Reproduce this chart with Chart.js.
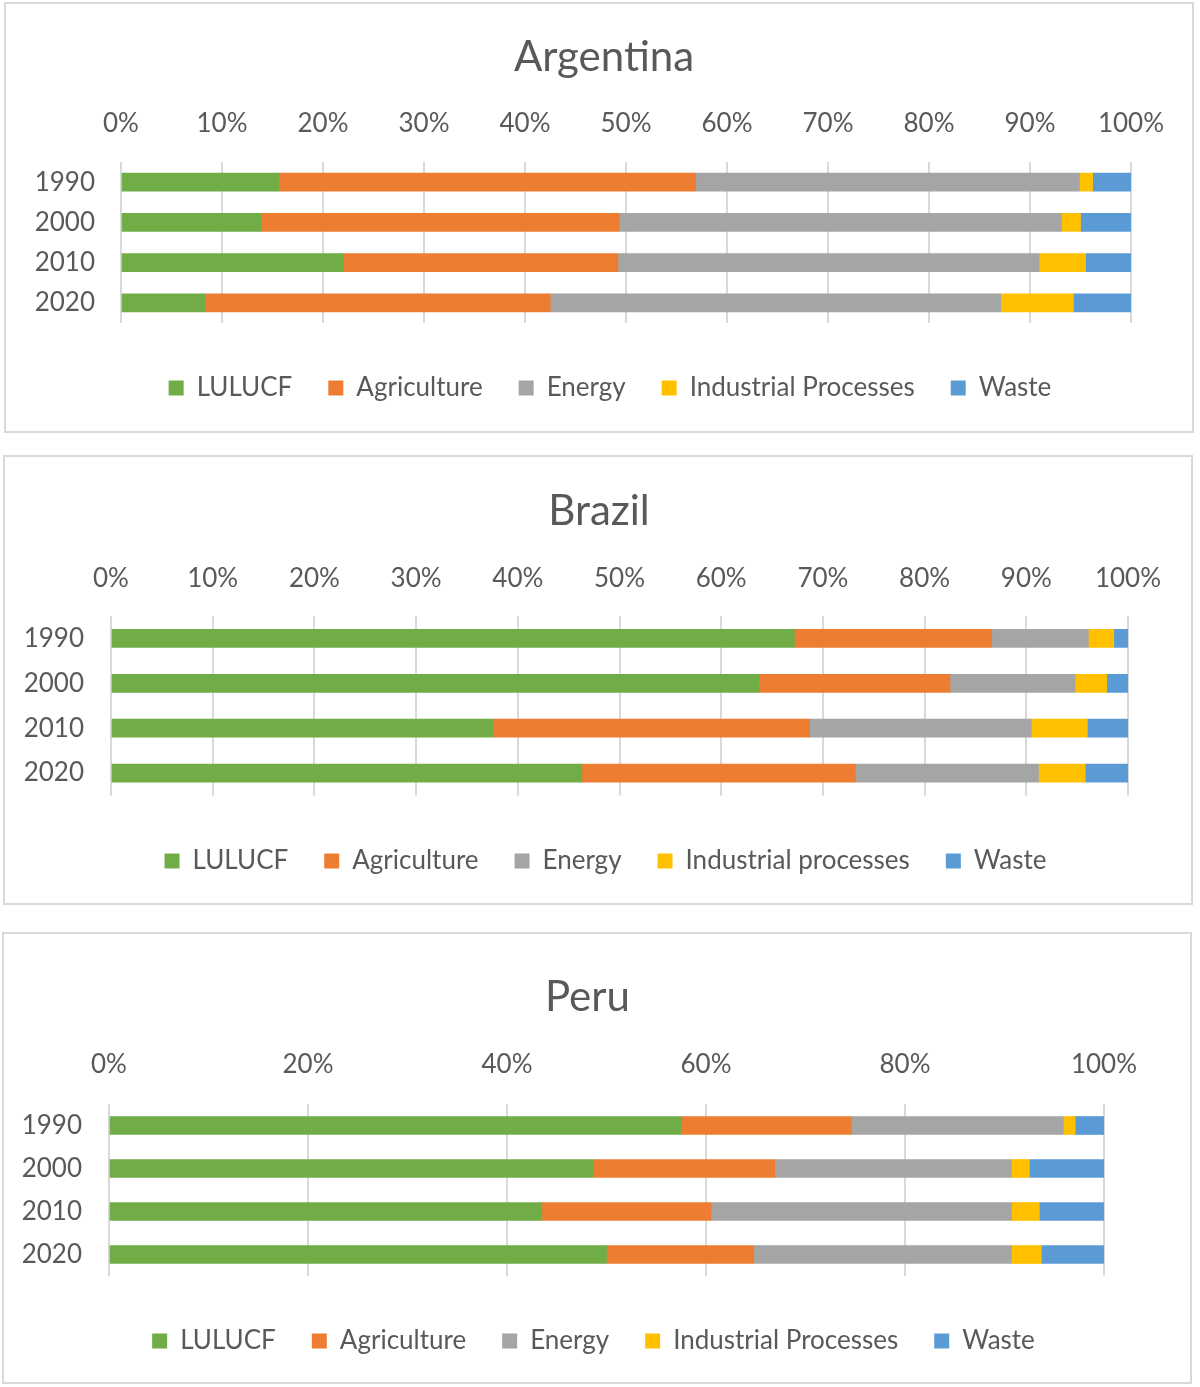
<!DOCTYPE html>
<html>
<head>
<meta charset="utf-8">
<script src="https://cdn.jsdelivr.net/npm/chart.js@4.4.0/dist/chart.umd.min.js"></script>
<style>
  html, body { margin: 0; padding: 0; background: #fff; }
  body { width: 1200px; height: 1387px; position: relative; overflow: hidden; }
  .panel { position: absolute; box-sizing: border-box; border: 2px solid #d9d9d9; background: #fff; }
  .panel canvas { display: block; }
</style>
</head>
<body>
<div class="panel" id="pArg" style="left:4px; top:2px; width:1190px; height:431px;"><canvas id="cArg"></canvas></div>
<div class="panel" id="pBra" style="left:3px; top:455px; width:1190px; height:450px;"><canvas id="cBra"></canvas></div>
<div class="panel" id="pPer" style="left:2px; top:932px; width:1190px; height:452px;"><canvas id="cPer"></canvas></div>
<script>
/* ------------------------------
   DATA (shares in %)
--------------------------------*/

const years = ["1990", "2000", "2010", "2020"];

const ticks10 = [0, 10, 20, 30, 40, 50, 60, 70, 80, 90, 100];
const ticks20 = [0, 20, 40, 60, 80, 100];

const sectorsA = ["LULUCF", "Agriculture", "Energy", "Industrial Processes", "Waste"];
const sectorsB = ["LULUCF", "Agriculture", "Energy", "Industrial processes", "Waste"];

// Argentina
const argLulucf = [15.6, 13.9, 22.0, 8.3];
const argAgri   = [41.3, 35.4, 27.2, 34.2];
const argEnergy = [38.0, 43.8, 41.7, 44.6];
const argInd    = [1.3, 1.9, 4.6, 7.2];
const argWaste  = [3.8, 5.0, 4.5, 5.7];

// Brazil
const braLulucf = [67.2, 63.7, 37.6, 46.3];
const braAgri   = [19.4, 18.8, 31.1, 26.9];
const braEnergy = [9.5, 12.3, 21.8, 18.0];
const braInd    = [2.5, 3.1, 5.5, 4.6];
const braWaste  = [1.4, 2.1, 4.0, 4.2];

// Peru
const perLulucf = [57.5, 48.7, 43.5, 50.0];
const perAgri   = [17.1, 18.2, 17.0, 14.8];
const perEnergy = [21.3, 23.8, 30.2, 25.9];
const perInd    = [1.2, 1.8, 2.8, 3.0];
const perWaste  = [2.9, 7.5, 6.5, 6.3];

/* ------------------------------
   STYLE
--------------------------------*/

const colors = ["#70ad47", "#ed7d31", "#a5a5a5", "#ffc000", "#5b9bd5"];
const textColor = "#595959";
const gridColor = "#d9d9d9";
const fontFamily = "Lato, 'Open Sans', sans-serif";

// title and legend are centred on the whole panel in the original,
// not on the space left of the padding, so nudge them sideways
const shiftBoxes = {
    id: "shiftBoxes",
    afterLayout(chart, args, opts) {
        const t = chart.titleBlock, l = chart.legend;
        if (t) { t.left += opts.titleDx; t.right += opts.titleDx; }
        if (l) { l.left += opts.legendDx; l.right += opts.legendDx; }
    }
};

/* ------------------------------
   CHART BUILDER
--------------------------------*/

function makeChart(canvasId, panelId, title, names, series, tickValues, lay) {
    const panel = document.getElementById(panelId);
    const canvas = document.getElementById(canvasId);
    canvas.width = panel.clientWidth;
    canvas.height = panel.clientHeight;

    return new Chart(canvas, {
        type: "bar",
        plugins: [shiftBoxes],
        data: {
            labels: years,
            datasets: series.map((s, i) => ({
                label: names[i],
                data: s,
                backgroundColor: colors[i],
                borderWidth: 0,
                barThickness: 18
            }))
        },
        options: {
            responsive: false,
            animation: false,
            indexAxis: "y",
            layout: { padding: { left: 10, right: lay.padR, top: 0, bottom: lay.padB } },
            plugins: {
                shiftBoxes: { titleDx: lay.titleDx, legendDx: lay.legendDx },
                title: {
                    display: true,
                    text: title,
                    color: textColor,
                    font: { family: fontFamily, size: 42, weight: "normal", lineHeight: 1.2 },
                    padding: { top: lay.titleTop, bottom: lay.titleBottom }
                },
                legend: {
                    position: "bottom",
                    title: { display: true, text: "", font: { size: 1, lineHeight: 1 }, padding: { top: lay.legendGap, bottom: 0 } },
                    labels: {
                        color: textColor,
                        font: { family: fontFamily, size: 26 },
                        boxWidth: 15,
                        boxHeight: 15,
                        padding: 36
                    }
                },
                tooltip: { enabled: false }
            },
            scales: {
                x: {
                    position: "top",
                    stacked: true,
                    min: 0,
                    max: 100,
                    afterBuildTicks: axis => { axis.ticks = tickValues.map(v => ({ value: v })); },
                    afterFit: axis => { axis.height = lay.axisH; },
                    grid: { color: gridColor, lineWidth: 2, drawTicks: false },
                    border: { display: false },
                    ticks: {
                        color: textColor,
                        font: { family: fontFamily, size: 26 },
                        padding: lay.axisH - 33.2,
                        maxRotation: 0,
                        callback: v => v + "%"
                    }
                },
                y: {
                    stacked: true,
                    afterFit: axis => { axis.width = lay.yWidth; },
                    grid: { display: false, drawTicks: false },
                    border: { display: false },
                    ticks: {
                        color: textColor,
                        font: { family: fontFamily, size: 26 },
                        padding: lay.yPad
                    }
                }
            }
        }
    });
}

makeChart("cArg", "pArg", "Argentina", sectorsA,
    [argLulucf, argAgri, argEnergy, argInd, argWaste], ticks10,
    { padR: 61, padB: 20, axisH: 55.6, yWidth: 105, yPad: 26, titleTop: 27.8, titleBottom: 24.2, legendGap: 15, titleDx: 30.5, legendDx: 36.5 });

makeChart("cBra", "pBra", "Brazil", sectorsB,
    [braLulucf, braAgri, braEnergy, braInd, braWaste], ticks10,
    { padR: 63, padB: 19, axisH: 54.6, yWidth: 96, yPad: 27, titleTop: 28.8, titleBottom: 25.2, legendGap: 15.5, titleDx: 27.5, legendDx: 34 });

makeChart("cPer", "pPer", "Peru", sectorsA,
    [perLulucf, perAgri, perEnergy, perInd, perWaste], ticks20,
    { padR: 86, padB: 18, axisH: 56.6, yWidth: 95, yPad: 27, titleTop: 37.8, titleBottom: 25.2, legendGap: 15, titleDx: 28.5, legendDx: 34.5 });
</script>
</body>
</html>
